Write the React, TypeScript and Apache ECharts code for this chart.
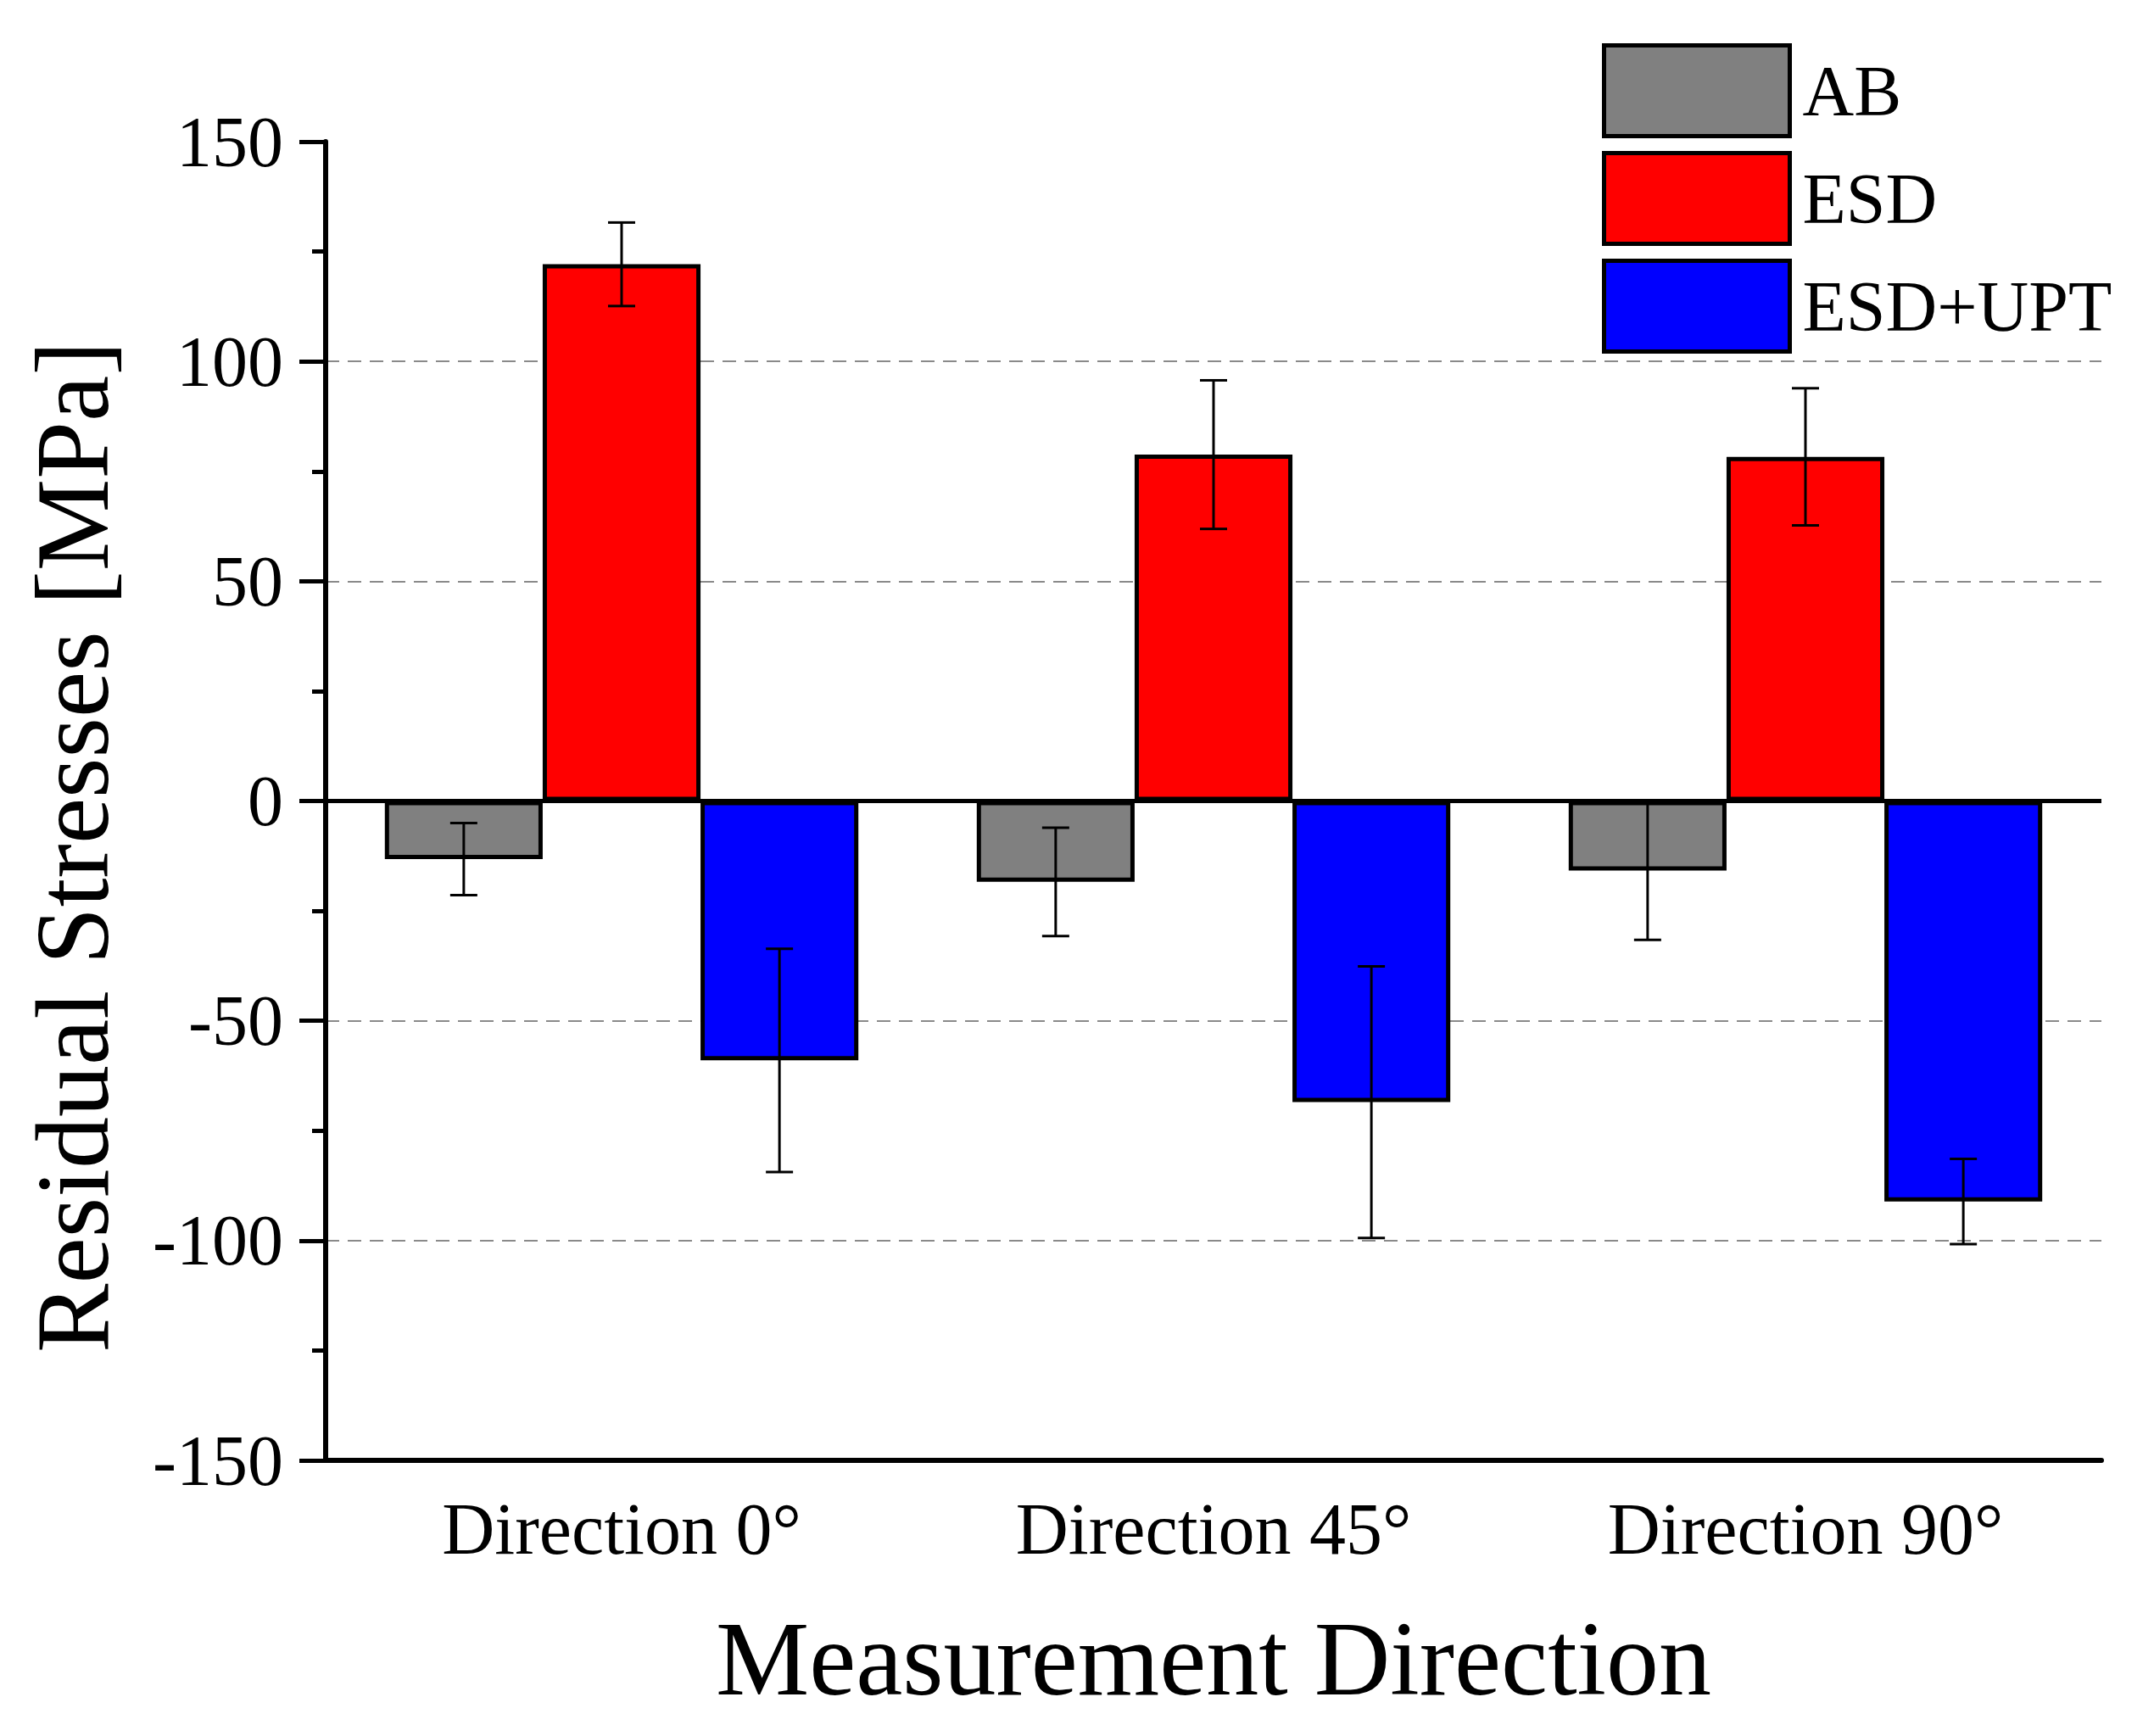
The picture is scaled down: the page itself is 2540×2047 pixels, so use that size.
import { useEffect, useRef } from 'react'
import * as echarts from 'echarts'

const DIRECTIONS = ['Direction 0°', 'Direction 45°', 'Direction 90°']
const SERIES_NAMES = ['AB', 'ESD', 'ESD+UPT']
const SERIES_COLORS = ['#808080', '#ff0000', '#0000ff']

// mean residual stress per direction [MPa]
const AB_VALUES = [-13.2, -18.4, -15.8]
const ESD_VALUES = [122.1, 78.8, 78.3]
const UPT_VALUES = [-59.0, -68.5, -91.1]

// standard deviation per direction [MPa]
const AB_ERRORS = [8.2, 12.3, 15.8]
const ESD_ERRORS = [9.5, 16.9, 15.6]
const UPT_ERRORS = [25.4, 30.9, 9.7]

const Y_MIN = -150
const Y_MAX = 150
const Y_STEP = 50

const FONT = 'Liberation Serif, Times New Roman, serif'

export default function App() {
  const chartRef = useRef<HTMLDivElement>(null)

  useEffect(() => {
    if (!chartRef.current) return
    document.body.style.margin = '0'

    const chart = echarts.init(chartRef.current, undefined, { renderer: 'svg' })

    const values = [AB_VALUES, ESD_VALUES, UPT_VALUES]
    const errors = [AB_ERRORS, ESD_ERRORS, UPT_ERRORS]

    const errorData: number[][] = []
    values.forEach((vals, k) => {
      vals.forEach((v, i) => errorData.push([i, v, errors[k][i], k]))
    })

    const barSeries: any[] = SERIES_NAMES.map((name, k) => ({
      name,
      type: 'bar',
      data: values[k],
      barGap: '0%',
      barCategoryGap: '20%',
      z: 2,
      itemStyle: {
        color: SERIES_COLORS[k],
        borderColor: '#000',
        borderWidth: 5,
      },
      ...(k === 0
        ? {
            markLine: {
              silent: true,
              symbol: 'none',
              z: 5,
              label: { show: false },
              lineStyle: { color: '#000', width: 5, type: 'solid' },
              data: [{ yAxis: 0 }],
            },
          }
        : {}),
    }))

    const option: any = {
      animation: false,
      backgroundColor: '#fff',
      textStyle: { fontFamily: FONT },
      grid: {
        left: 384,
        right: 62,
        top: 167,
        bottom: 325,
        containLabel: false,
        outerBoundsMode: 'none',
      },
      legend: {
        orient: 'vertical',
        left: 1884,
        top: 46,
        itemWidth: 219,
        itemHeight: 107,
        itemGap: 15,
        icon: 'rect',
        data: SERIES_NAMES,
        itemStyle: { borderColor: '#000', borderWidth: 5 },
        textStyle: {
          fontFamily: FONT,
          fontSize: 84,
          color: '#000',
          padding: [0, 0, 0, 10],
        },
      },
      xAxis: {
        type: 'category',
        data: DIRECTIONS,
        name: 'Measurement Direction',
        nameLocation: 'middle',
        nameGap: 172,
        nameTextStyle: { fontFamily: FONT, fontSize: 124, color: '#000' },
        axisLine: { onZero: false, lineStyle: { color: '#000', width: 6 } },
        axisTick: { alignWithLabel: true, length: 33, lineStyle: { color: '#000', width: 5 } },
        axisLabel: { fontFamily: FONT, fontSize: 86, color: '#000', margin: 38 },
        splitLine: { show: false },
      },
      yAxis: {
        type: 'value',
        min: Y_MIN,
        max: Y_MAX,
        interval: Y_STEP,
        name: 'Residual Stresses [MPa]',
        nameLocation: 'middle',
        nameGap: 238,
        nameRotate: 90,
        nameTextStyle: {
          fontFamily: FONT,
          fontSize: 122,
          color: '#000',
          padding: [0, 108, 0, 0],
        },
        axisLine: { show: true, lineStyle: { color: '#000', width: 6 } },
        axisTick: { show: true, length: 31, lineStyle: { color: '#000', width: 5 } },
        minorTick: { show: true, splitNumber: 2, length: 16, lineStyle: { color: '#000', width: 5 } },
        axisLabel: { fontFamily: FONT, fontSize: 84, color: '#000', margin: 50 },
        splitLine: {
          show: true,
          showMinLine: false,
          showMaxLine: false,
          lineStyle: { color: '#8a8a8a', width: 2, type: [16, 10] },
        },
      },
      series: [
        ...barSeries,
        {
          name: 'error',
          type: 'custom',
          z: 4,
          silent: true,
          encode: { x: 0, y: 1 },
          data: errorData,
          renderItem: (_params: any, api: any) => {
            const cat = api.value(0)
            const mean = api.value(1)
            const err = api.value(2)
            const k = api.value(3)
            const band = api.size([1, 0])[0]
            const barW = (band * 0.8) / 3
            const x = api.coord([cat, mean])[0] + (k - 1) * barW
            const top = api.coord([cat, mean + err])[1]
            const bottom = api.coord([cat, mean - err])[1]
            const cap = 16
            const style = { stroke: '#000', lineWidth: 3 }
            return {
              type: 'group',
              children: [
                { type: 'line', shape: { x1: x, y1: top, x2: x, y2: bottom }, style },
                { type: 'line', shape: { x1: x - cap, y1: top, x2: x + cap, y2: top }, style },
                { type: 'line', shape: { x1: x - cap, y1: bottom, x2: x + cap, y2: bottom }, style },
              ],
            }
          },
        },
      ],
    }

    chart.setOption(option)

    return () => {
      chart.dispose()
    }
  }, [])

  return <div ref={chartRef} style={{ width: '2540px', height: '2047px' }} />
}
